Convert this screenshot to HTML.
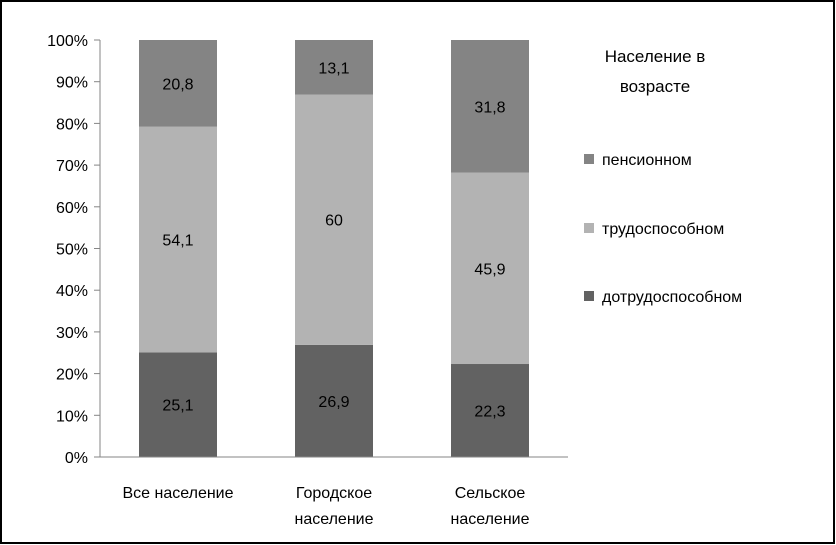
<!DOCTYPE html>
<html><head><meta charset="utf-8"><style>
body{margin:0;background:#fff}
svg{display:block;font-family:"Liberation Sans","DejaVu Sans",sans-serif}
</style></head><body>
<svg width="836" height="545">
<rect x="1" y="1" width="833" height="542" fill="#fff" stroke="#000" stroke-width="2"/>
<g id="plot"></g>
<g>
<text x="655" y="62" font-size="17" text-anchor="middle" fill="#000">Население в</text>
<text x="655" y="92" font-size="17" text-anchor="middle" fill="#000">возрасте</text>
<g id="legend"></g>
</g>
</svg>
<script>
const categories=[["Все население"],["Городское","население"],["Сельское","население"]];
const seriesNames=["дотрудоспособном","трудоспособном","пенсионном"];
const dotrud=[25.1,26.9,22.3];
const trud=[54.1,60,45.9];
const pens=[20.8,13.1,31.8];
const labels=[["25,1","26,9","22,3"],["54,1","60","45,9"],["20,8","13,1","31,8"]];
const ticks=[0,10,20,30,40,50,60,70,80,90,100];
const colors=["#626262","#b3b3b3","#848484"];
const series=[dotrud,trud,pens];
const NS="http://www.w3.org/2000/svg";
const x0=100,yTop=40,yBot=457,catW=156,barW=78;
const y=v=>yBot-(yBot-yTop)*v/100;
const g=document.getElementById('plot');
function el(t,a,txt){const e=document.createElementNS(NS,t);for(const k in a)e.setAttribute(k,a[k]);if(txt!==undefined)e.textContent=txt;return e;}
let ax=el('line',{x1:x0,y1:yTop,x2:x0,y2:yBot,stroke:'#868686'});


g.appendChild(ax);
ticks.forEach(t=>{
 let l=el('line',{x1:x0-6,y1:y(t),x2:x0,y2:y(t),stroke:'#868686'});
 
 
 g.appendChild(l);
 let tx=el('text',{x:x0-12,y:y(t)+6,'font-size':16,'text-anchor':'end'},t+'%');
 
 
 g.appendChild(tx);
});
categories.forEach((c,i)=>{
 const cx=x0+catW*i+catW/2;
 let cum=0;
 const tot=dotrud[i]+trud[i]+pens[i];
 series.forEach((s,j)=>{
  const v=s[i]/tot*100;
  let r=el('rect',{x:cx-barW/2,y:y(cum+v),width:barW,height:y(cum)-y(cum+v),fill:colors[j]});
  
  
  g.appendChild(r);
  let t=el('text',{x:cx,y:y(cum+v/2)+6,'font-size':16,'text-anchor':'middle'},labels[j][i]);
  
  
  g.appendChild(t);
  cum+=v;
 });
 c.forEach((line,k)=>{
  let t=el('text',{x:cx,y:498+k*26,'font-size':16,'text-anchor':'middle'},line);
  
  
  g.appendChild(t);
 });
});
let xa=el('line',{x1:x0,y1:yBot,x2:x0+catW*3,y2:yBot,stroke:'#868686'});


g.appendChild(xa);
const lg=document.getElementById('legend');
const ly=[159,228,296];
[2,1,0].forEach((j,k)=>{
 let r=el('rect',{x:584,y:ly[k]-5,width:10,height:10,fill:colors[j]});
 
 
 lg.appendChild(r);
 let t=el('text',{x:602,y:ly[k]+6,'font-size':16},seriesNames[j]);
 
 
 lg.appendChild(t);
});
</script>
</body></html>
